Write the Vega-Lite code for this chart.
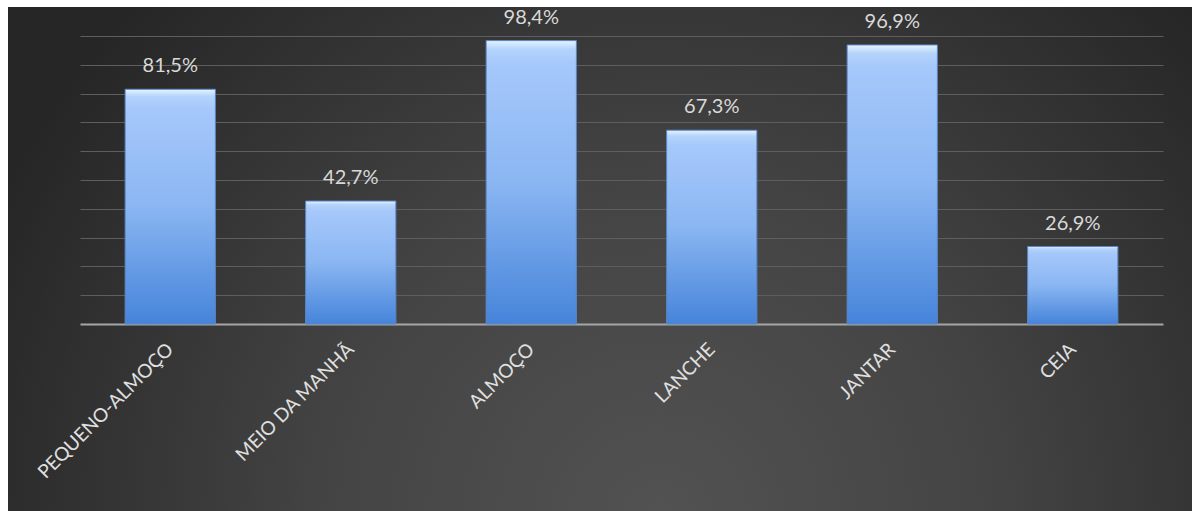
{
  "$schema": "https://vega.github.io/schema/vega-lite/v6.json",
  "width": 1184,
  "height": 504,
  "padding": {"left": 8, "top": 7, "right": 0, "bottom": 0},
  "autosize": {"type": "none"},
  "background": "white",
  "view": {"stroke": null, "fill": {"gradient": "radial", "x1": 0.55, "y1": 0.72, "r1": 0, "x2": 0.55, "y2": 0.72, "r2": 0.62, "stops": [{"offset": 0, "color": "#525252"}, {"offset": 0.45, "color": "#444444"}, {"offset": 1, "color": "#262626"}]}},
  "config": {
    "locale": {"number": {"decimal": ",", "thousands": ".", "grouping": [3], "currency": ["", "€"]}},
    "font": "Lato"
  },
  "data": {"values": [
    {"refeicao": "PEQUENO-ALMOÇO", "valor": 0.815},
    {"refeicao": "MEIO DA MANHÃ", "valor": 0.427},
    {"refeicao": "ALMOÇO", "valor": 0.984},
    {"refeicao": "LANCHE", "valor": 0.673},
    {"refeicao": "JANTAR", "valor": 0.969},
    {"refeicao": "CEIA", "valor": 0.269}
  ]},
  "encoding": {
    "x": {"field": "refeicao", "type": "nominal", "sort": null,
      "scale": {"paddingInner": 0.5, "paddingOuter": 0.25, "range": [72, 1155]},
      "axis": {"title": null, "offset": -187, "labelAngle": -45, "labelAlign": "right", "labelBaseline": "middle", "labelPadding": 22, "labelFontSize": 19, "labelColor": "#e0e0e0", "labelFont": "Lato", "ticks": false, "domain": true, "domainColor": "#a6a6a6", "domainWidth": 2, "labelLimit": 300}},
    "y": {"field": "valor", "type": "quantitative",
      "scale": {"domain": [0, 1], "range": [317, 29]},
      "axis": {"title": null, "labels": false, "ticks": false, "domain": false, "grid": true, "gridColor": "#5e5e5e", "gridWidth": 1, "values": [0.1,0.2,0.3,0.4,0.5,0.6,0.7,0.8,0.9,1]}}
  },
  "layer": [
    {"mark": {"type": "bar", "stroke": "#5b86c4", "strokeWidth": 1,
      "fill": {"gradient": "linear", "x1": 0, "y1": 0, "x2": 0, "y2": 1, "stops": [
        {"offset": 0, "color": "#e6f4ff"},
        {"offset": 0.03, "color": "#b4d4fb"},
        {"offset": 0.08, "color": "#a6c8fb"},
        {"offset": 0.5, "color": "#8ab6f2"},
        {"offset": 1, "color": "#4684da"}]}}},
    {"mark": {"type": "text", "baseline": "alphabetic", "dy": -17, "fontSize": 20, "color": "#d9d9d9", "font": "Lato"},
      "encoding": {"text": {"field": "valor", "type": "quantitative", "format": ".1%"}}}
  ]
}
